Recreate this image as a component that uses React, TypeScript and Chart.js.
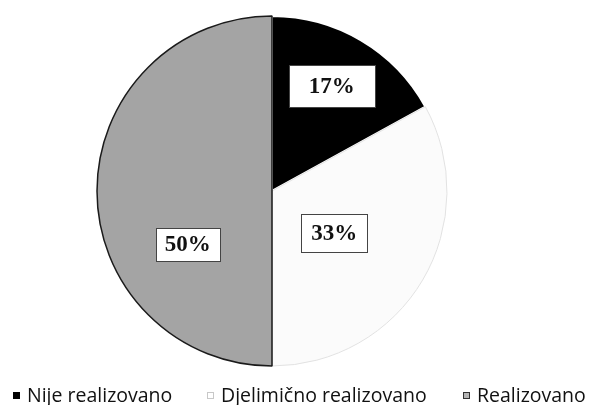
import React, { useEffect, useRef } from "react";
import { Chart, registerables } from "chart.js";

Chart.register(...registerables);

const categories = ["Nije realizovano", "Djelimično realizovano", "Realizovano"];
const shares = [17, 33, 50];
const percentLabels = ["17%", "33%", "50%"];

const sliceColors = ["#000000", "#fbfbfb", "#a4a4a4"];
const sliceBorders = ["#ffffff", "#e2e2e2", "#1a1a1a"];
const sliceBorderWidths = [2, 1, 1.5];
const legendMarkerFill = ["#000000", "#ffffff", "#b5b5b5"];
const legendMarkerStroke = ["#000000", "#c8c8c8", "#333333"];

// label placement relative to each arc (radius fraction, angle shift in degrees)
const labelRadiusFrac = [0.69, 0.43, 0.57];
const labelAngleShift = [-1, 3.5, -32.4];
const labelPadX = [20, 10, 9];
const labelBoxH = [42, 38, 33];
const legendX = [13, 207, 463];

const labelPlugin = {
  id: "percentBoxes",
  afterDatasetsDraw(chart: any) {
    const ctx = chart.ctx;
    const meta = chart.getDatasetMeta(0);
    ctx.save();
    ctx.font = "bold 23px 'Liberation Serif', 'Times New Roman', serif";
    ctx.textAlign = "center";
    ctx.textBaseline = "middle";
    meta.data.forEach((arc: any, i: number) => {
      const p = arc.getProps(["x", "y", "startAngle", "endAngle", "outerRadius"], true);
      const a = (p.startAngle + p.endAngle) / 2 + (labelAngleShift[i] * Math.PI) / 180;
      const r = p.outerRadius * labelRadiusFrac[i];
      const cx = p.x + Math.cos(a) * r;
      const cy = p.y + Math.sin(a) * r;
      const text = percentLabels[i];
      const tw = ctx.measureText(text).width;
      const w = tw + labelPadX[i] * 2;
      const h = labelBoxH[i];
      ctx.fillStyle = "#ffffff";
      ctx.fillRect(Math.round(cx - w / 2), Math.round(cy - h / 2), Math.round(w), h);
      ctx.strokeStyle = "#444444";
      ctx.lineWidth = 1;
      ctx.strokeRect(Math.round(cx - w / 2) + 0.5, Math.round(cy - h / 2) + 0.5, Math.round(w), h);
      ctx.fillStyle = "#111111";
      ctx.fillText(text, cx, cy + 1);
    });
    ctx.restore();
  },
};

const legendPlugin = {
  id: "bottomLegend",
  afterDraw(chart: any) {
    const ctx = chart.ctx;
    const labels = chart.data.labels as string[];
    ctx.save();
    ctx.font = "19.5px 'Open Sans', sans-serif";
    ctx.textBaseline = "alphabetic";
    ctx.textAlign = "left";
    labels.forEach((lab, i) => {
      const x = legendX[i];
      ctx.fillStyle = legendMarkerFill[i];
      ctx.fillRect(x, 392, 7, 7);
      ctx.strokeStyle = legendMarkerStroke[i];
      ctx.lineWidth = 1;
      ctx.strokeRect(x + 0.5, 392.5, 6, 6);
      ctx.fillStyle = "#111111";
      ctx.fillText(lab, x + 14, 402);
    });
    ctx.restore();
  },
};

export default function App() {
  const ref = useRef<HTMLCanvasElement | null>(null);
  useEffect(() => {
    if (!ref.current) return;
    const chart = new Chart(ref.current, {
      type: "pie",
      data: {
        labels: categories,
        datasets: [
          {
            data: shares,
            backgroundColor: sliceColors,
            borderColor: sliceBorders,
            borderWidth: sliceBorderWidths,
          },
        ],
      },
      options: {
        responsive: false,
        animation: false,
        layout: { padding: { left: 96, right: 147, top: 15, bottom: 38 } },
        plugins: {
          legend: { display: false },
          tooltip: { enabled: false },
        },
      },
      plugins: [labelPlugin, legendPlugin],
    });
    return () => chart.destroy();
  }, []);
  return (
    <div style={{ position: "fixed", left: 0, top: 0, width: 595, height: 405, background: "#ffffff" }}>
      <canvas ref={ref} width={595} height={405} style={{ display: "block" }} />
    </div>
  );
}
